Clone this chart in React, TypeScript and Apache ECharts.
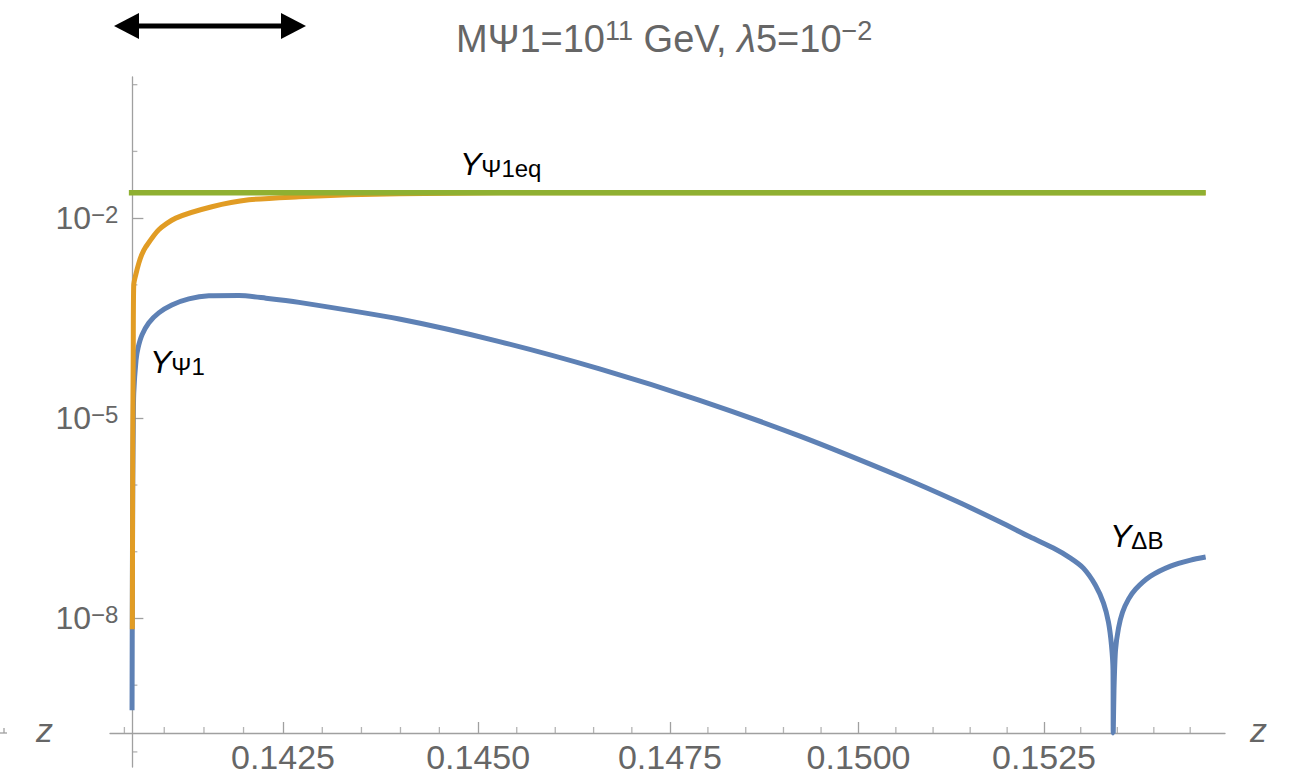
import React, { useEffect, useRef } from 'react';
import * as echarts from 'echarts';

// ---- data ----
const X_MIN = 0.14032;
const X_MAX = 0.15498;
const X_CROSS = 0.1406; // where the vertical axis crosses
const Y_MIN_EXP = -10.226;
const Y_MAX_EXP = 0.115;
const Y_CROSS_EXP = -9.716; // where the horizontal axis crosses

const X_TICKS = [0.1425, 0.145, 0.1475, 0.15, 0.1525];
const X_MINOR = [0.1405, 0.141, 0.1415, 0.142, 0.143, 0.1435, 0.144, 0.1445, 0.1455, 0.146, 0.1465, 0.147,
  0.148, 0.1485, 0.149, 0.1495, 0.1505, 0.151, 0.1515, 0.152, 0.153, 0.1535, 0.154, 0.1545];
const Y_TICK_EXP = [-2, -5, -8];
const Y_MINOR_EXP = [0, -1, -3, -4, -6, -7, -9, -10];

const blueZ = [0.140596, 0.140598, 0.140601, 0.140605, 0.140611, 0.140617, 0.140646, 0.140671, 0.140721, 0.140805,
  0.140931, 0.141095, 0.141309, 0.141562, 0.141941, 0.142284, 0.142704, 0.143984, 0.145275, 0.146578,
  0.147892, 0.149219, 0.150557, 0.151325, 0.151907, 0.152314, 0.152627, 0.15286, 0.153036, 0.153201,
  0.153311, 0.153379, 0.15342, 0.153441, 0.153444, 0.153454, 0.153475, 0.153516, 0.153571, 0.153653,
  0.153749, 0.153955, 0.15423, 0.154506, 0.154713];
const blueY = [4.2e-10, 4.7e-9, 7.5e-8, 1.19e-6, 6.7e-6, 2.37e-5, 7.5e-5, 1.135e-4, 1.78e-4, 2.69e-4,
  3.8e-4, 5.0e-4, 6.17e-4, 6.84e-4, 6.91e-4, 6.31e-4, 5.46e-4, 3.07e-4, 1.41e-4, 5.5e-5,
  1.86e-5, 5.4e-6, 1.34e-6, 5.65e-7, 2.79e-7, 1.66e-7, 1.135e-7, 8.04e-8, 5.69e-8, 3.16e-8,
  1.7e-8, 8.8e-9, 3.98e-9, 1.68e-9, 1.92e-10, 8.4e-10, 3.35e-9, 7.16e-9, 1.24e-8, 1.95e-8,
  2.75e-8, 4.31e-8, 6.1e-8, 7.5e-8, 8.32e-8];

const orangeZ = [0.1406, 0.140605, 0.140611, 0.140617, 0.140642, 0.14068, 0.140717, 0.140768, 0.140931, 0.141145,
  0.1416, 0.142068, 0.142704, 0.143342, 0.143984, 0.144628, 0.145275, 0.154713];
const orangeY = [6.9e-9, 4.7e-6, 1.0e-4, 1.0e-3, 1.41e-3, 2.1e-3, 2.82e-3, 3.7e-3, 6.7e-3, 1.0e-2,
  1.48e-2, 1.88e-2, 2.09e-2, 2.24e-2, 2.32e-2, 2.36e-2, 2.4e-2, 2.4e-2];

const greenZ = [0.140556, 0.147, 0.154713];
const greenY = [0.024, 0.024, 0.024];

const L = (v: number) => Math.log10(v);
const pts = (zs: number[], ys: number[]) => zs.map((z, i) => [L(z), L(ys[i])]);

const FONT = '"Liberation Sans", Arial, Helvetica, sans-serif';
const AXIS = '#a0a0a0';
const TXT = '#666666';

const GRID_LEFT = 110;
const GRID_RIGHT = 65;
const GRID_TOP = 77;
const GRID_BOTTOM = 13;
const GRID_W = 1290 - GRID_LEFT - GRID_RIGHT;
const GRID_H = 780 - GRID_TOP - GRID_BOTTOM;

const labelRich = {
  y: { fontSize: 32, lineHeight: 32, fontStyle: 'italic', fontFamily: FONT, fill: '#000', color: '#000' },
  s: { fontSize: 24, lineHeight: 12, verticalAlign: 'bottom', fontFamily: FONT, fill: '#000', color: '#000' },
};

const curveLabel = (x: number, y: number, sub: string) => ({
  type: 'text',
  x,
  y,
  style: { text: `{y|Y}{s|${sub}}`, rich: labelRich, verticalAlign: 'top', align: 'left', fill: '#000' },
});

export default function App() {
  const ref = useRef<HTMLDivElement>(null);
  useEffect(() => {
    if (!ref.current) return;
    const chart = echarts.init(ref.current, undefined, { renderer: 'svg' });
    const xOffset = ((L(X_CROSS) - L(X_MIN)) / (L(X_MAX) - L(X_MIN))) * GRID_W;
    const yOffset = ((Y_CROSS_EXP - Y_MIN_EXP) / (Y_MAX_EXP - Y_MIN_EXP)) * GRID_H;
    const option: any = {
      animation: false,
      backgroundColor: '#ffffff',
      title: {
        text: '{a|MΨ1=10}{s|11}{a| GeV, }{i|λ}{a|5=10}{s|−2}',
        left: 456,
        top: 17,
        padding: 0,
        textStyle: {
          fontWeight: 'normal',
          rich: {
            a: { fontSize: 38, color: TXT, fontFamily: FONT, lineHeight: 44, fontWeight: 'normal' },
            i: { fontSize: 38, color: TXT, fontFamily: FONT, lineHeight: 44, fontStyle: 'italic', fontWeight: 'normal' },
            s: { fontSize: 27, color: TXT, fontFamily: FONT, lineHeight: 28, verticalAlign: 'top', fontWeight: 'normal' },
          },
        },
      },
      grid: { left: GRID_LEFT, right: GRID_RIGHT, top: GRID_TOP, bottom: GRID_BOTTOM, containLabel: false, outerBoundsMode: 'none' },
      xAxis: {
        type: 'value',
        min: L(X_MIN),
        max: L(X_MAX),
        position: 'bottom',
        offset: -yOffset,
        splitLine: { show: false },
        axisLine: { show: true, onZero: false, lineStyle: { color: AXIS, width: 1.3 } },
        axisTick: { show: true, inside: true, length: 11, customValues: X_TICKS.map(L), lineStyle: { color: AXIS, width: 1.3 } },
        axisLabel: {
          show: true,
          customValues: X_TICKS.map(L),
          formatter: (v: number) => Math.pow(10, v).toFixed(4),
          fontSize: 34,
          color: TXT,
          fontFamily: FONT,
          margin: 7,
        },
      },
      yAxis: {
        type: 'value',
        min: Y_MIN_EXP,
        max: Y_MAX_EXP,
        position: 'left',
        offset: -xOffset,
        splitLine: { show: false },
        axisLine: { show: true, onZero: false, lineStyle: { color: AXIS, width: 1.3 } },
        axisTick: { show: true, inside: true, length: 11, customValues: Y_TICK_EXP, lineStyle: { color: AXIS, width: 1.3 } },
        axisLabel: {
          show: true,
          customValues: Y_TICK_EXP,
          margin: 14,
          formatter: (v: number) => `{m|10}{s|−${Math.round(-v)}}`,
          rich: {
            m: { fontSize: 32, color: TXT, fontFamily: FONT, lineHeight: 32 },
            s: { fontSize: 24, color: TXT, fontFamily: FONT, lineHeight: 20, verticalAlign: 'top' },
          },
        },
      },
      series: [
        // minor ticks of the horizontal axis
        {
          type: 'scatter', silent: true, z: 1,
          data: X_MINOR.map((v) => [L(v), Y_CROSS_EXP]),
          symbol: 'rect', symbolSize: [1.3, 6], symbolOffset: [0, -3],
          itemStyle: { color: AXIS },
        },
        // minor ticks of the vertical axis
        {
          type: 'scatter', silent: true, z: 1,
          data: Y_MINOR_EXP.map((e) => [L(X_CROSS), e]),
          symbol: 'rect', symbolSize: [5, 1.3], symbolOffset: [2.5, 0],
          itemStyle: { color: AXIS },
        },
        {
          type: 'line', name: 'Y_ΔB', data: pts(blueZ, blueY), showSymbol: false, symbol: 'none', smooth: 0.25,
          lineStyle: { color: '#5E81B5', width: 5 }, z: 2,
        },
        {
          type: 'line', name: 'Y_Ψ1', data: pts(orangeZ, orangeY), showSymbol: false, symbol: 'none', smooth: 0.25,
          lineStyle: { color: '#E19C24', width: 5 }, z: 3,
        },
        {
          type: 'line', name: 'Y_Ψ1eq', data: pts(greenZ, greenY), showSymbol: false, symbol: 'none',
          lineStyle: { color: '#8FB032', width: 5.5 }, z: 4,
        },
      ],
      graphic: [
        // double arrow
        { type: 'line', shape: { x1: 138, y1: 26, x2: 282, y2: 26 }, style: { stroke: '#000', lineWidth: 5 } },
        { type: 'polygon', shape: { points: [[114, 26], [139, 13], [139, 39]] }, style: { fill: '#000' } },
        { type: 'polygon', shape: { points: [[306, 26], [281, 13], [281, 39]] }, style: { fill: '#000' } },
        // stray axis fragment at left edge
        { type: 'line', shape: { x1: 0, y1: 733, x2: 7, y2: 733 }, style: { stroke: AXIS, lineWidth: 1.3 } },
        { type: 'line', shape: { x1: 4, y1: 728, x2: 4, y2: 733 }, style: { stroke: AXIS, lineWidth: 1.3 } },
        // axis labels "z"
        { type: 'text', x: 36, y: 730, style: { text: 'z', fontSize: 34, fontStyle: 'italic', fontFamily: FONT, fill: TXT, verticalAlign: 'middle' } },
        { type: 'text', x: 1250, y: 730, style: { text: 'z', fontSize: 34, fontStyle: 'italic', fontFamily: FONT, fill: TXT, verticalAlign: 'middle' } },
        // curve labels
        curveLabel(150, 346, 'Ψ1'),
        curveLabel(460, 148, 'Ψ1eq'),
        curveLabel(1110, 520, 'ΔB'),
      ],
    };
    chart.setOption(option);
    return () => chart.dispose();
  }, []);
  return (
    <div
      ref={ref}
      style={{ position: 'fixed', left: 0, top: 0, width: 1290, height: 780, background: '#fff' }}
    />
  );
}
